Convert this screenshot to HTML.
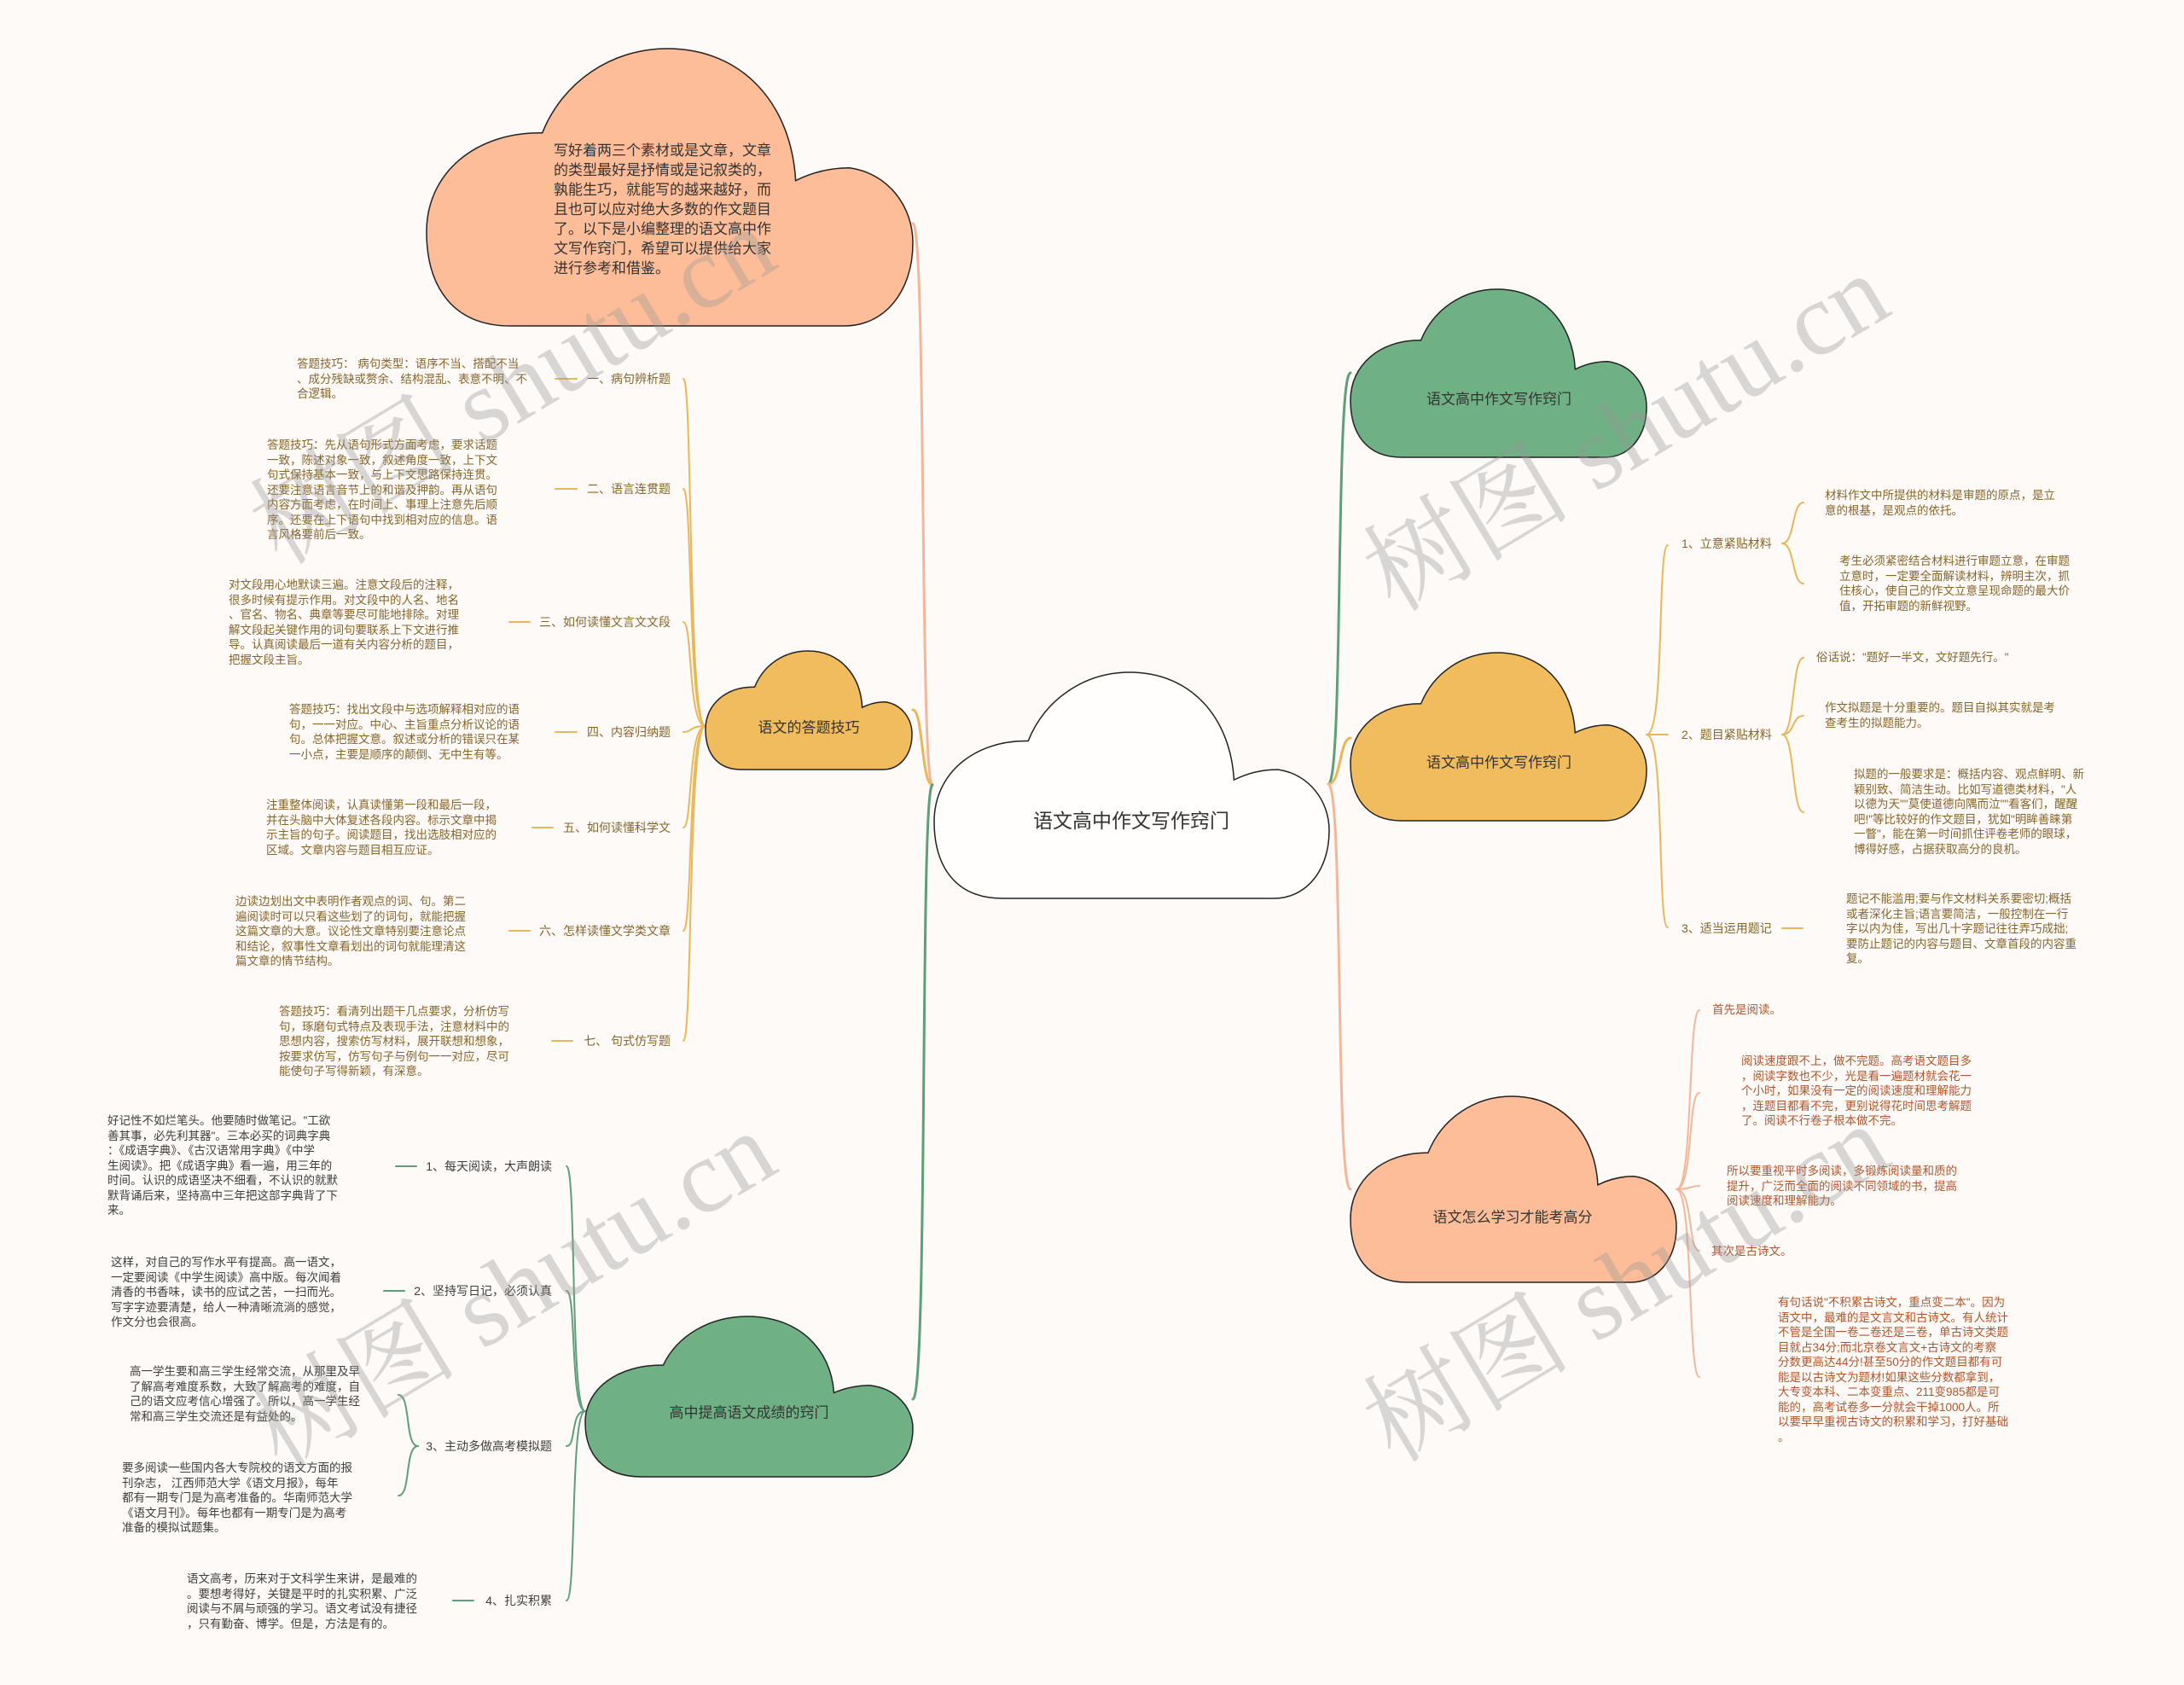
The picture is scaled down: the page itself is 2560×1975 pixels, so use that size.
<!DOCTYPE html>
<html><head><meta charset="utf-8">
<style>
html,body{margin:0;padding:0;}
body{width:2560px;height:1975px;background:#fdfaf8;position:relative;overflow:hidden;font-family:"Liberation Sans","Noto Sans CJK SC",sans-serif;}
.t{position:absolute;white-space:nowrap;font-size:13.5px;line-height:17.5px;}
.g{color:#86652a;}
.p{color:#b0552a;}
.gr{color:#3d3d3d;}
.lbl{position:absolute;white-space:nowrap;font-size:14px;line-height:18px;}
.ct{position:absolute;white-space:nowrap;transform:translate(-50%,-50%);color:#333;}
.wm{position:absolute;font-family:"Liberation Serif","Noto Serif CJK SC",serif;font-size:122px;color:rgba(150,150,150,0.36);white-space:nowrap;transform-origin:0 100%;transform:rotate(-31deg);line-height:122px;}
svg{position:absolute;left:0;top:0;}
</style></head><body>
<svg width="2560" height="1975" viewBox="0 0 2560 1975">
<defs>
<path id="cl" vector-effect="non-scaling-stroke" d="M17.3,100 C5,100 0,85 0,66 C0,45 10,30 23.8,30.4 C28,12 38,0 49.5,0 C65,0 75,20 75.9,47.6 C80,44 84,43 87,43 C95,45 100,57 100,70 C100,88 94,100 86,100 Z"/>
</defs>
<g fill="none" stroke-linecap="round">
<path d="M1093,920 C1078,920 1086,262 1070,262" stroke="#f2b79a" stroke-width="3"/>
<path d="M1093,920 C1080,920 1082,832 1070,832" stroke="#e9b75b" stroke-width="3"/>
<path d="M1093,920 C1078,920 1088,1640 1070,1640" stroke="#5e9e78" stroke-width="3"/>
<path d="M1557,919 C1575,919 1565,437 1583,437" stroke="#5e9e78" stroke-width="3"/>
<path d="M1557,919 C1572,919 1570,865 1583,865" stroke="#e9b75b" stroke-width="3"/>
<path d="M1557,919 C1575,919 1565,1394 1583,1394" stroke="#f2b79a" stroke-width="3"/>
<g stroke="#e9b75b" stroke-width="2">
<path d="M827,851 C806,851 812,444 801,444"/>
<path d="M827,851 C806,851 812,573 801,573"/>
<path d="M827,851 C806,851 812,729 801,729"/>
<path d="M827,851 C808,851 812,858 801,858"/>
<path d="M827,851 C806,851 812,970 801,970"/>
<path d="M827,851 C806,851 812,1091 801,1091"/>
<path d="M827,851 C806,851 812,1220 801,1220"/>
<path d="M651,444 H676"/><path d="M651,573 H676"/><path d="M597,729 H621"/><path d="M651,858 H676"/><path d="M624,970 H648"/><path d="M597,1091 H621"/><path d="M647,1220 H671"/>
</g>
<g stroke="#e9b75b" stroke-width="2">
<path d="M1930,861 C1952,861 1942,639 1955,639"/>
<path d="M1930,861 C1945,861 1945,861 1955,861"/>
<path d="M1930,861 C1952,861 1942,1087 1955,1087"/>
<path d="M2089,637 C2104,637 2100,589 2114,589"/>
<path d="M2089,637 C2104,637 2100,684 2114,684"/>
<path d="M2089,861 C2104,861 2100,771 2114,771"/>
<path d="M2089,861 C2104,861 2100,839 2114,839"/>
<path d="M2089,861 C2104,861 2100,952 2114,952"/>
<path d="M2089,1088 H2113"/>
</g>
<g stroke="#f2b79a" stroke-width="2">
<path d="M1965,1394 C1985,1394 1978,1184 1992,1184"/>
<path d="M1965,1394 C1985,1394 1978,1281 1992,1281"/>
<path d="M1965,1394 C1982,1394 1980,1390 1992,1390"/>
<path d="M1965,1394 C1985,1394 1978,1466 1992,1466"/>
<path d="M1965,1394 C1985,1394 1978,1614 1992,1614"/>
</g>
<g stroke="#5e9e78" stroke-width="2">
<path d="M686,1654 C668,1654 676,1367 664,1367"/>
<path d="M686,1654 C668,1654 676,1513 664,1513"/>
<path d="M686,1654 C668,1654 676,1695 664,1695"/>
<path d="M686,1654 C668,1654 676,1876 664,1876"/>
<path d="M464,1367 H488"/><path d="M450,1513 H474"/><path d="M531,1876 H555"/>
<path d="M490,1695 C474,1695 482,1635 467,1635"/>
<path d="M490,1695 C474,1695 482,1753 467,1753"/>
</g>
</g>
<g stroke="#222" stroke-width="1.5">
<use href="#cl" transform="translate(500,57) scale(5.70,3.25)" fill="#fdbd98"/>
<use href="#cl" transform="translate(827,763) scale(2.42,1.39)" fill="#f0bc5e"/>
<use href="#cl" transform="translate(1095,788) scale(4.63,2.65)" fill="#fffefd"/>
<use href="#cl" transform="translate(1583,339) scale(3.47,1.97)" fill="#70b085"/>
<use href="#cl" transform="translate(1583,765) scale(3.47,1.97)" fill="#f0bc5e"/>
<use href="#cl" transform="translate(1583,1285) scale(3.82,2.18)" fill="#fdbd98"/>
<use href="#cl" transform="translate(686,1543) scale(3.84,1.88)" fill="#70b085"/>
</g>
</svg>

<div class="t" style="left:649px;top:165px;font-size:17px;line-height:23px;color:#333;">写好着两三个素材或是文章，文章<br>的类型最好是抒情或是记叙类的，<br>孰能生巧，就能写的越来越好，而<br>且也可以应对绝大多数的作文题目<br>了。以下是小编整理的语文高中作<br>文写作窍门，希望可以提供给大家<br>进行参考和借鉴。</div>

<div class="ct" style="left:1326px;top:960px;font-size:23px;">语文高中作文写作窍门</div>
<div class="ct" style="left:948px;top:851px;font-size:17px;">语文的答题技巧</div>
<div class="ct" style="left:1757px;top:466px;font-size:17px;">语文高中作文写作窍门</div>
<div class="ct" style="left:1757px;top:892px;font-size:17px;">语文高中作文写作窍门</div>
<div class="ct" style="left:1773px;top:1425px;font-size:17px;">语文怎么学习才能考高分</div>
<div class="ct" style="left:878px;top:1654px;font-size:17px;">高中提高语文成绩的窍门</div>

<div class="lbl g" style="right:1774px;top:435px;">一、病句辨析题</div>
<div class="lbl g" style="right:1774px;top:564px;">二、语言连贯题</div>
<div class="lbl g" style="right:1774px;top:720px;">三、如何读懂文言文文段</div>
<div class="lbl g" style="right:1774px;top:849px;">四、内容归纳题</div>
<div class="lbl g" style="right:1774px;top:961px;">五、如何读懂科学文</div>
<div class="lbl g" style="right:1774px;top:1082px;">六、怎样读懂文学类文章</div>
<div class="lbl g" style="right:1774px;top:1211px;">七、 句式仿写题</div>

<div class="t g" style="left:348px;top:418px;">答题技巧： 病句类型：语序不当、搭配不当<br>、成分残缺或赘余、结构混乱、表意不明、不<br>合逻辑。</div>
<div class="t g" style="left:313px;top:513px;">答题技巧：先从语句形式方面考虑，要求话题<br>一致，陈述对象一致，叙述角度一致，上下文<br>句式保持基本一致，与上下文思路保持连贯。<br>还要注意语言音节上的和谐及押韵。再从语句<br>内容方面考虑，在时间上、事理上注意先后顺<br>序。还要在上下语句中找到相对应的信息。语<br>言风格要前后一致。</div>
<div class="t g" style="left:268px;top:677px;">对文段用心地默读三遍。注意文段后的注释，<br>很多时候有提示作用。对文段中的人名、地名<br>、官名、物名、典章等要尽可能地排除。对理<br>解文段起关键作用的词句要联系上下文进行推<br>导。认真阅读最后一道有关内容分析的题目，<br>把握文段主旨。</div>
<div class="t g" style="left:339px;top:823px;">答题技巧：找出文段中与选项解释相对应的语<br>句，一一对应。中心、主旨重点分析议论的语<br>句。总体把握文意。叙述或分析的错误只在某<br>一小点，主要是顺序的颠倒、无中生有等。</div>
<div class="t g" style="left:312px;top:935px;">注重整体阅读，认真读懂第一段和最后一段，<br>并在头脑中大体复述各段内容。标示文章中揭<br>示主旨的句子。阅读题目，找出选肢相对应的<br>区域。文章内容与题目相互应证。</div>
<div class="t g" style="left:276px;top:1048px;">边读边划出文中表明作者观点的词、句。第二<br>遍阅读时可以只看这些划了的词句，就能把握<br>这篇文章的大意。议论性文章特别要注意论点<br>和结论，叙事性文章看划出的词句就能理清这<br>篇文章的情节结构。</div>
<div class="t g" style="left:327px;top:1177px;">答题技巧：看清列出题干几点要求，分析仿写<br>句，琢磨句式特点及表现手法，注意材料中的<br>思想内容，搜索仿写材料，展开联想和想象，<br>按要求仿写，仿写句子与例句一一对应，尽可<br>能使句子写得新颖，有深意。</div>

<div class="lbl g" style="left:1971px;top:628px;">1、立意紧贴材料</div>
<div class="lbl g" style="left:1971px;top:852px;">2、题目紧贴材料</div>
<div class="lbl g" style="left:1971px;top:1079px;">3、适当运用题记</div>
<div class="t g" style="left:2139px;top:572px;">材料作文中所提供的材料是审题的原点，是立<br>意的根基，是观点的依托。</div>
<div class="t g" style="left:2156px;top:649px;">考生必须紧密结合材料进行审题立意，在审题<br>立意时，一定要全面解读材料，辨明主次，抓<br>住核心，使自己的作文立意呈现命题的最大价<br>值，开拓审题的新鲜视野。</div>
<div class="t g" style="left:2129px;top:762px;">俗话说："题好一半文，文好题先行。"</div>
<div class="t g" style="left:2139px;top:821px;">作文拟题是十分重要的。题目自拟其实就是考<br>查考生的拟题能力。</div>
<div class="t g" style="left:2173px;top:899px;">拟题的一般要求是：概括内容、观点鲜明、新<br>颖别致、简洁生动。比如写道德类材料，"人<br>以德为天""莫使道德向隅而泣""看客们，醒醒<br>吧!"等比较好的作文题目，犹如"明眸善睐第<br>一瞥"，能在第一时间抓住评卷老师的眼球，<br>博得好感，占据获取高分的良机。</div>
<div class="t g" style="left:2164px;top:1045px;">题记不能滥用;要与作文材料关系要密切;概括<br>或者深化主旨;语言要简洁，一般控制在一行<br>字以内为佳，写出几十字题记往往弄巧成拙;<br>要防止题记的内容与题目、文章首段的内容重<br>复。</div>

<div class="t p" style="left:2007px;top:1175px;">首先是阅读。</div>
<div class="t p" style="left:2041px;top:1235px;">阅读速度跟不上，做不完题。高考语文题目多<br>，阅读字数也不少，光是看一遍题材就会花一<br>个小时，如果没有一定的阅读速度和理解能力<br>，连题目都看不完，更别说得花时间思考解题<br>了。阅读不行卷子根本做不完。</div>
<div class="t p" style="left:2024px;top:1364px;">所以要重视平时多阅读，多锻炼阅读量和质的<br>提升，广泛而全面的阅读不同领域的书，提高<br>阅读速度和理解能力。</div>
<div class="t p" style="left:2006px;top:1458px;">其次是古诗文。</div>
<div class="t p" style="left:2084px;top:1518px;">有句话说"不积累古诗文，重点变二本"。因为<br>语文中，最难的是文言文和古诗文。有人统计<br>不管是全国一卷二卷还是三卷，单古诗文类题<br>目就占34分;而北京卷文言文+古诗文的考察<br>分数更高达44分!甚至50分的作文题目都有可<br>能是以古诗文为题材!如果这些分数都拿到，<br>大专变本科、二本变重点、211变985都是可<br>能的，高考试卷多一分就会干掉1000人。所<br>以要早早重视古诗文的积累和学习，打好基础<br>。</div>

<div class="lbl gr" style="right:1913px;top:1358px;">1、每天阅读，大声朗读</div>
<div class="lbl gr" style="right:1913px;top:1504px;">2、坚持写日记，必须认真</div>
<div class="lbl gr" style="right:1913px;top:1686px;">3、主动多做高考模拟题</div>
<div class="lbl gr" style="right:1913px;top:1867px;">4、扎实积累</div>
<div class="t gr" style="left:126px;top:1305px;">好记性不如烂笔头。他要随时做笔记。"工欲<br>善其事，必先利其器"。三本必买的词典字典<br>：《成语字典》、《古汉语常用字典》《中学<br>生阅读》。把《成语字典》看一遍，用三年的<br>时间。认识的成语坚决不细看，不认识的就默<br>默背诵后来，坚持高中三年把这部字典背了下<br>来。</div>
<div class="t gr" style="left:130px;top:1471px;">这样，对自己的写作水平有提高。高一语文，<br>一定要阅读《中学生阅读》高中版。每次闻着<br>清香的书香味，读书的应试之苦，一扫而光。<br>写字字迹要清楚，给人一种清晰流淌的感觉，<br>作文分也会很高。</div>
<div class="t gr" style="left:152px;top:1599px;">高一学生要和高三学生经常交流，从那里及早<br>了解高考难度系数，大致了解高考的难度，自<br>己的语文应考信心增强了。所以，高一学生经<br>常和高三学生交流还是有益处的。</div>
<div class="t gr" style="left:143px;top:1712px;">要多阅读一些国内各大专院校的语文方面的报<br>刊杂志， 江西师范大学《语文月报》，每年<br>都有一期专门是为高考准备的。华南师范大学<br>《语文月刊》。每年也都有一期专门是为高考<br>准备的模拟试题集。</div>
<div class="t gr" style="left:219px;top:1842px;">语文高考，历来对于文科学生来讲，是最难的<br>。要想考得好，关键是平时的扎实积累、广泛<br>阅读与不屑与顽强的学习。语文考试没有捷径<br>，只有勤奋、博学。但是，方法是有的。</div>

<div class="wm" style="left:340px;top:560px;">树图 shutu.cn</div>
<div class="wm" style="left:1645px;top:615px;">树图 shutu.cn</div>
<div class="wm" style="left:340px;top:1620px;">树图 shutu.cn</div>
<div class="wm" style="left:1645px;top:1612px;">树图 shutu.cn</div>
</body></html>
